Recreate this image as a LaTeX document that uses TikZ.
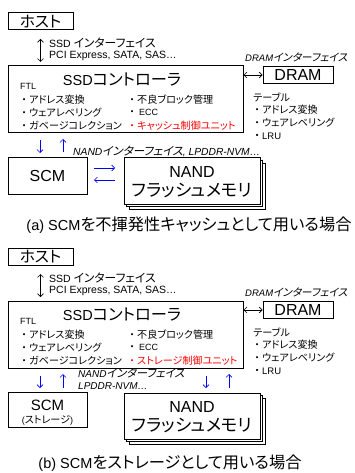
\documentclass[tikz,border=0pt]{standalone}
\usepackage{fontspec}
\setmainfont{Liberation Sans}
\newfontfamily\jp[RawFeature=+palt,Scale=1.12]{Noto Sans CJK JP}
\newfontfamily\jpit[RawFeature=+palt,FakeSlant=0.2,Scale=1.12]{Noto Sans CJK JP}
\usetikzlibrary{arrows.meta}
\newcommand\fs[1]{\fontsize{#1}{#1}\selectfont}
\newcommand\bul{{\jp\makebox[10pt][c]{・}}}
\tikzset{
  box/.style={draw, line width=1pt, fill=white, inner sep=0pt},
  lbl/.style={inner sep=0pt, anchor=west},
  ctr/.style={inner sep=0pt},
  thinarrow/.style={line width=0.6pt, arrows={Straight Barb[length=3pt,width=6pt]-Straight Barb[length=3pt,width=6pt]}},
  blarrow/.style={line width=0.6pt, blue, arrows={-Straight Barb[length=3pt,width=6pt]}},
  redtext/.style={red}
}
\newcommand\panelcommon[2]{%
  \node[box, minimum width=65, minimum height=17] (#1host) at (40.5,21.5) {\fs{14}\jp ホスト};
  \coordinate (#1ifa) at (40.5,39);
  \coordinate (#1ifb) at (40.5,62);
  \draw[thinarrow] (#1ifa) -- (#1ifb);
  \node[lbl] (#1ifx) at (49,43) {\fs{10.5}SSD {\jp インターフェイス}};
  \node[lbl] (#1ify) at (49,56) {\fs{10.5}PCI Express, SATA, SAS…};
  \node[box, minimum width=235, minimum height=67] (#1ctrl) at (125.5,99.5) {};
  \node[ctr] (#1title) at (122,80) {\fs{14.5}SSD{\jp コントローラ}};
  \node[lbl] (#1ftl) at (20,86) {\fs{9}FTL};
  \node[lbl] (#1l1) at (19,99.5) {\fs{9}\bul{\jp アドレス変換}};
  \node[lbl] (#1l2) at (19,112.5) {\fs{9}\bul{\jp ウェアレベリング}};
  \node[lbl] (#1l3) at (19,125.5) {\fs{9}\bul{\jp ガベージコレクション}};
  \node[lbl] (#1r1) at (127,99.5) {\fs{9}\bul{\jp 不良ブロック管理}};
  \node[lbl] (#1r2) at (127,112.5) {\fs{9}\bul\hspace{2pt}ECC};
  \node[lbl, redtext] (#1r3) at (127,125.5) {\fs{9}\bul{\jp #2}};
  \node[box, minimum width=70, minimum height=17] (#1dram) at (298,75) {\fs{16}DRAM};
  \draw[thinarrow] (#1ctrl.east |- #1dram.west) -- (#1dram.west);
  \node[lbl] (#1dif) at (245,57) {\fs{9.5}\itshape DRAM{\jpit インターフェイス}};
  \node[lbl] (#1t0) at (253,97) {\fs{9}\jp テーブル};
  \node[lbl] (#1t1) at (252,110) {\fs{9}\bul{\jp アドレス変換}};
  \node[lbl] (#1t2) at (252,123) {\fs{9}\bul{\jp ウェアレベリング}};
  \node[lbl] (#1t3) at (252,136.5) {\fs{9.5}\bul LRU};
  \node[box, minimum width=136, minimum height=46] (#1nandc) at (197,186) {};
  \node[box, minimum width=136, minimum height=46] (#1nandb) at (194.5,183.5) {};
  \node[box, minimum width=136, minimum height=46] (#1nand) at (192,181) {};
  \node[ctr] (#1nandt) at (192,172) {\fs{16}NAND};
  \node[ctr] (#1nandu) at (192,190) {\fs{15.5}\jp フラッシュメモリ};
}
\begin{document}
\begin{tikzpicture}[x=1pt,y=-1pt]
\useasboundingbox (0,0) rectangle (355,473);
\fill[white] (0,0) rectangle (355,473);
% ---------- panel (a)
\begin{scope}
  \panelcommon{a}{キャッシュ制御ユニット}
  \node[box, minimum width=79, minimum height=36] (ascm) at (47.5,176) {\fs{16}SCM};
  \coordinate (ad1) at (40,140); \coordinate (ad2) at (40,153);
  \coordinate (au1) at (63,152); \coordinate (au2) at (63,139);
  \draw[blarrow] (ad1) -- (ad2);
  \draw[blarrow] (au1) -- (au2);
  \node[lbl] (anif) at (73,151) {\fs{10.3}\itshape NAND{\jpit インターフェイス}, LPDDR-NVM…};
  \coordinate (ah1) at (94,168); \coordinate (ah2) at (115,168);
  \coordinate (ah3) at (115,180); \coordinate (ah4) at (94,180);
  \draw[blarrow] (ah1) -- (ah2);
  \draw[blarrow] (ah3) -- (ah4);
  \node[ctr] (acap) at (189,225) {\fs{14.5}(a) SCM{\jp を不揮発性キャッシュとして用いる場合}};
\end{scope}
% ---------- panel (b)
\begin{scope}[yshift=-235pt]
  \panelcommon{b}{ストレージ制御ユニット}
  \node[box, minimum width=79, minimum height=35] (bscm) at (47.5,174.5) {};
  \node[ctr] (bscmt) at (47.5,170) {\fs{15}SCM};
  \node[ctr] (bscmu) at (47.5,185) {\fs{9}({\jp ストレージ})};
  \coordinate (bd1) at (40,141); \coordinate (bd2) at (40,153);
  \coordinate (bu1) at (63,153); \coordinate (bu2) at (63,139);
  \draw[blarrow] (bd1) -- (bd2);
  \draw[blarrow] (bu1) -- (bu2);
  \coordinate (bd3) at (206,141); \coordinate (bd4) at (206,153);
  \coordinate (bu3) at (229,153); \coordinate (bu4) at (229,139);
  \draw[blarrow] (bd3) -- (bd4);
  \draw[blarrow] (bu3) -- (bu4);
  \node[lbl] (bnif1) at (78,138) {\fs{10}\itshape NAND{\jpit インターフェイス}};
  \node[lbl] (bnif2) at (78,151) {\fs{10}\itshape LPDDR-NVM…};
  \node[ctr] (bcap) at (170,228) {\fs{14.5}(b) SCM{\jp をストレージとして用いる場合}};
\end{scope}
\end{tikzpicture}
\end{document}
